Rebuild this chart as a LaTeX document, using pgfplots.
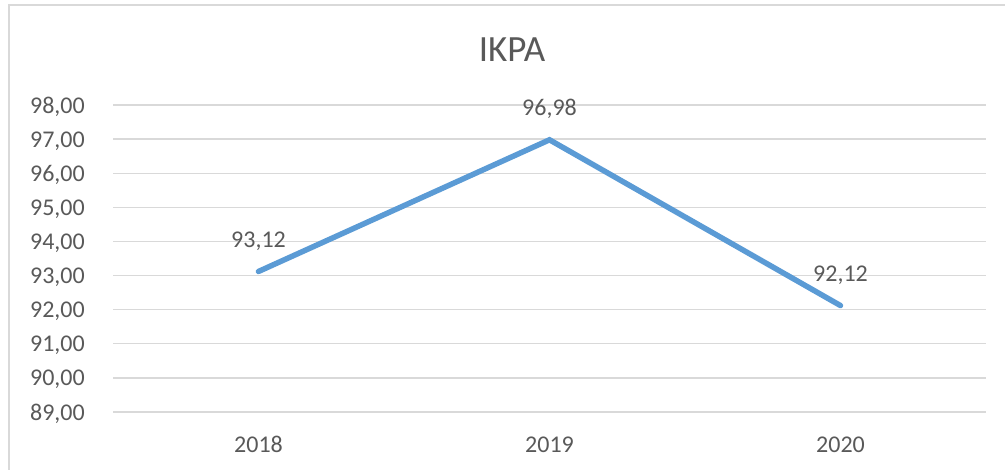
\documentclass[border=0pt]{standalone}
\usepackage{pgfplots}
\pgfplotsset{compat=1.18}
\usepackage{fontspec}
\setmainfont{Carlito}
\definecolor{txt}{HTML}{595959}
\definecolor{gridc}{HTML}{D9D9D9}
\definecolor{linec}{HTML}{5B9BD5}
\begin{document}
\begin{tikzpicture}
\path[use as bounding box] (0,0) rectangle (1005bp,470bp);
\draw[gridc, line width=2bp] (8.5bp,0) -- (8.5bp,464.5bp) -- (1005bp,464.5bp);
\node[txt, font=\fontsize{37bp}{40bp}\selectfont, anchor=base] at (512bp,408bp) {IKPA};
\begin{axis}[
  at={(113bp,58bp)}, anchor=south west,
  scale only axis, width=873bp, height=307bp,
  xmin=-0.5, xmax=2.5, ymin=89, ymax=98,
  xtick={0,1,2}, xticklabels={2018,2019,2020},
  ytick={89,90,...,98},
  yticklabels={{89,00},{90,00},{91,00},{92,00},{93,00},{94,00},{95,00},{96,00},{97,00},{98,00}},
  axis line style={draw=none}, tick style={draw=none},
  ymajorgrids, major grid style={gridc, line width=1.3bp},
  ticklabel style={txt, font=\fontsize{24bp}{28bp}\selectfont, inner sep=0pt},
  yticklabel style={anchor=base east, xshift=-28bp, yshift=-8bp},
  xticklabel style={anchor=base, yshift=-40bp},
  clip=false,
  point meta=explicit symbolic,
  nodes near coords,
  nodes near coords style={txt, font=\fontsize{24bp}{28bp}\selectfont, anchor=base, inner sep=0pt, yshift=24bp},
]
\addplot[linec, line width=5.5bp, line cap=round, line join=miter] coordinates {
  (0,93.12) [93,12]
  (1,96.98) [96,98]
  (2,92.12) [92,12]
};
\end{axis}
\end{tikzpicture}
\end{document}
